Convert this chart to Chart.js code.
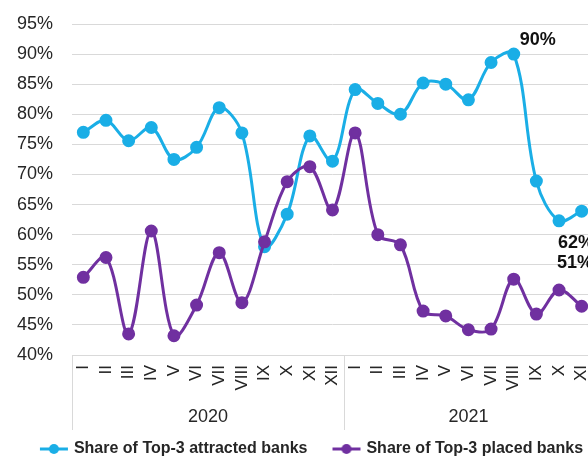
<!DOCTYPE html>
<html><head><meta charset="utf-8">
<script src="https://cdn.jsdelivr.net/npm/chart.js@4.4.0/dist/chart.umd.min.js"></script>
<style>
html,body{margin:0;padding:0;overflow:hidden;background:#fff;}
#wrap{width:624px;height:467px;position:relative;}
</style></head><body>
<div id="wrap"><canvas id="c"></canvas></div>
<script>
const years = ['2020', '2021'];
const months2020 = ['I','II','III','IV','V','VI','VII','VIII','IX','X','XI','XII'];
const months2021 = ['I','II','III','IV','V','VI','VII','VIII','IX','X','XI'];
const attracted2020 = [77.0, 79.0, 75.6, 77.8, 72.5, 74.5, 81.1, 76.9, 58.0, 63.4, 76.4, 72.2];
const attracted2021 = [84.1, 81.8, 80.0, 85.2, 85.0, 82.4, 88.6, 90.0, 68.9, 62.3, 63.9];
const placed2020 = [52.9, 56.2, 43.5, 60.6, 43.2, 48.3, 57.0, 48.7, 58.8, 68.8, 71.3, 64.1];
const placed2021 = [76.9, 60.0, 58.3, 47.3, 46.5, 44.2, 44.3, 52.6, 46.8, 50.8, 48.1];
const seriesNames = ['Share of Top-3 attracted banks', 'Share of Top-3 placed banks'];
const yTicks = [40, 45, 50, 55, 60, 65, 70, 75, 80, 85, 90, 95];
// labelled points: [series index, 2021 month index]
const labelledPoints = [[0, 7], [0, 9], [1, 9]];

const categories = months2020.concat(months2021);
const groupSizes = [months2020.length, months2021.length];
const attracted = attracted2020.concat(attracted2021);
const placed = placed2020.concat(placed2021);

const FONT = '"Liberation Sans", Arial, sans-serif';
const CYAN = '#1aaee6';
const PURPLE = '#7030a0';
const TXT = '#262626';
const GRID = '#d9d9d9';

// legend icon: line with a dot, placed to the left of the text
const BOXW = 46;
function legendIcon(color){
  const c = document.createElement('canvas');
  c.width = BOXW + 6; c.height = 12;
  const x = c.getContext('2d');
  const x0 = BOXW - 23, x1 = BOXW + 5;
  x.strokeStyle = color; x.lineWidth = 3;
  x.beginPath(); x.moveTo(x0, 6); x.lineTo(x1, 6); x.stroke();
  x.fillStyle = color;
  x.beginPath(); x.arc((x0 + x1) / 2, 6, 5, 0, Math.PI * 2); x.fill();
  return c;
}
const icons = [legendIcon(CYAN), legendIcon(PURPLE)];

// label offsets (styling): [dx, dy]
const labelOffsets = {'0-7': [6, -14], '0-9': [-1, 22], '1-9': [-2, -27]};

const extras = {
  id: 'extras',
  afterDraw(chart){
    const ctx = chart.ctx;
    const xs = chart.scales.x, ys = chart.scales.y;
    const ca = chart.chartArea;
    ctx.save();
    ctx.strokeStyle = GRID; ctx.lineWidth = 1;
    const bounds = [ca.left];
    let idx = 0;
    groupSizes.forEach((n) => {
      idx += n;
      if (idx < categories.length) {
        bounds.push((xs.getPixelForValue(idx - 1) + xs.getPixelForValue(idx)) / 2);
      } else bounds.push(ca.right);
    });
    bounds.forEach(b => {
      const xx = Math.round(b) + 0.5;
      ctx.beginPath(); ctx.moveTo(xx, ca.bottom); ctx.lineTo(xx, ca.bottom + 75); ctx.stroke();
    });
    ctx.fillStyle = TXT;
    ctx.font = '18px ' + FONT;
    ctx.textAlign = 'center'; ctx.textBaseline = 'middle';
    years.forEach((y, i) => {
      ctx.fillText(y, (bounds[i] + bounds[i + 1]) / 2, ca.bottom + 62);
    });
    ctx.font = 'bold 18px ' + FONT;
    ctx.textAlign = 'left';
    labelledPoints.forEach(([s, m]) => {
      const i = months2020.length + m;
      const v = chart.data.datasets[s].data[i];
      const px = xs.getPixelForValue(i), py = ys.getPixelForValue(v);
      const off = labelOffsets[s + '-' + m];
      ctx.fillStyle = '#111';
      ctx.fillText(Math.round(v) + '%', px + off[0], py + off[1]);
    });
    ctx.restore();
  }
};

new Chart(document.getElementById('c'), {
  type: 'line',
  data: {
    labels: categories,
    datasets: [
      {label: seriesNames[0], data: attracted, borderColor: CYAN, backgroundColor: CYAN,
       pointBackgroundColor: CYAN, pointBorderColor: CYAN, borderWidth: 3, pointRadius: 5,
       tension: 0.35, order: 2},
      {label: seriesNames[1], data: placed, borderColor: PURPLE, backgroundColor: PURPLE,
       pointBackgroundColor: PURPLE, pointBorderColor: PURPLE, borderWidth: 3, pointRadius: 5,
       tension: 0.35, order: 1}
    ]
  },
  options: {
    responsive: true, maintainAspectRatio: false, animation: false,
    devicePixelRatio: 1,
    layout: {padding: {top: 24, right: 31, left: 10, bottom: 0}},
    scales: {
      x: {
        offset: true,
        grid: {display: false, drawTicks: false},
        border: {display: true, color: GRID},
        ticks: {autoSkip: false, maxRotation: 90, minRotation: 90, padding: 10,
                color: TXT, font: {family: FONT, size: 17}},
        afterFit(s){ s.height = 81; }
      },
      y: {
        min: 40, max: 95,
        afterBuildTicks(s){ s.ticks = yTicks.map(v => ({value: v})); },
        grid: {color: GRID, drawTicks: false},
        border: {display: false},
        ticks: {mirror: true, padding: -55, color: TXT, font: {family: FONT, size: 18},
                callback: v => v + '%'},
        afterFit(s){ s.width = 62; }
      }
    },
    plugins: {
      tooltip: {enabled: false},
      legend: {
        position: 'bottom',
        labels: {
          usePointStyle: true, pointStyleWidth: BOXW, padding: 5,
          color: TXT, font: {family: FONT, size: 16, weight: 'bold'},
          generateLabels(chart){
            return chart.data.datasets.map((d, i) => ({
              text: d.label, pointStyle: icons[i], fillStyle: d.borderColor,
              strokeStyle: d.borderColor, lineWidth: 0, hidden: false, datasetIndex: i,
              fontColor: TXT
            }));
          }
        }
      }
    }
  },
  plugins: [extras]
});
</script>
</body></html>
